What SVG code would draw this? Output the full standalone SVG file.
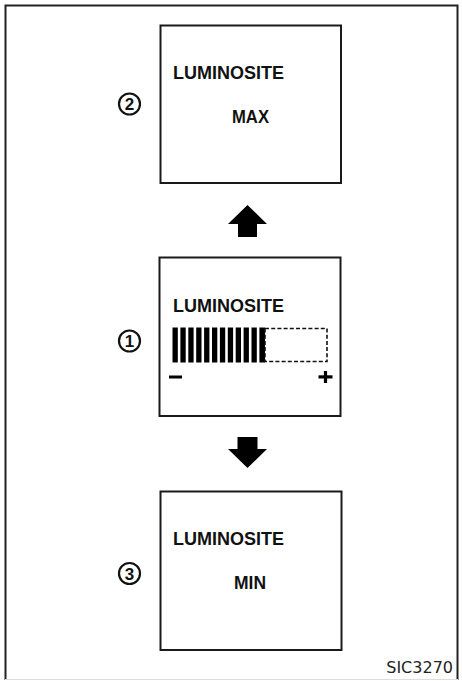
<svg xmlns="http://www.w3.org/2000/svg" width="462" height="681" viewBox="0 0 462 681">
<style>
.box{fill:#fff;stroke:#1a1a1a;stroke-width:2}
.lbl{font-family:"Liberation Sans",Arial,sans-serif;font-weight:bold;font-size:18px;fill:#111}
.num{font-family:"Liberation Sans",Arial,sans-serif;font-weight:bold;font-size:17px;fill:#111;text-anchor:middle}
.ring{fill:#fff;stroke:#111;stroke-width:2.2}
.arrow{fill:#000}
</style>
<rect width="462" height="681" fill="#fff"/>
<g id="frame">
<path d="M5.5 680V5.5H457.5V680" fill="none" stroke="#222" stroke-width="2"/>
<line x1="5" y1="679.5" x2="458" y2="679.5" stroke="#ddd" stroke-width="1"/>
</g>
<g id="node2">
<rect class="box" x="160.5" y="25.5" width="180.5" height="157.5"/>
<text class="lbl" x="173" y="79">LUMINOSITE</text>
<text class="lbl" x="232" y="123" textLength="37" lengthAdjust="spacingAndGlyphs">MAX</text>
<circle class="ring" cx="129.5" cy="104" r="10.5"/>
<text class="num" x="129.5" y="110">2</text>
</g>
<g id="node1">
<rect class="box" x="159.5" y="257.5" width="181" height="158.5"/>
<text class="lbl" x="173" y="312">LUMINOSITE</text>
<g fill="#000">
<rect x="172.5" y="327.5" width="5.3" height="35"/>
<rect x="180.4" y="327.5" width="5.3" height="35"/>
<rect x="188.3" y="327.5" width="5.3" height="35"/>
<rect x="196.2" y="327.5" width="5.3" height="35"/>
<rect x="204.1" y="327.5" width="5.3" height="35"/>
<rect x="212.0" y="327.5" width="5.3" height="35"/>
<rect x="219.9" y="327.5" width="5.3" height="35"/>
<rect x="227.8" y="327.5" width="5.3" height="35"/>
<rect x="235.7" y="327.5" width="5.3" height="35"/>
<rect x="243.6" y="327.5" width="5.3" height="35"/>
<rect x="251.5" y="327.5" width="5.3" height="35"/>
<rect x="259.4" y="327.5" width="5.6" height="35"/>
</g>
<rect x="265" y="328.5" width="62" height="33" fill="none" stroke="#111" stroke-width="1.6" stroke-dasharray="4 2.2"/>
<rect x="169" y="375.5" width="13" height="3" fill="#000"/>
<rect x="318.5" y="375.3" width="14" height="3.2" fill="#000"/>
<rect x="323.9" y="371" width="3.2" height="12" fill="#000"/>
<circle class="ring" cx="129.5" cy="341" r="10.5"/>
<text class="num" x="129.5" y="347">1</text>
</g>
<g id="node3">
<rect class="box" x="160.5" y="491.5" width="181" height="158.5"/>
<text class="lbl" x="173" y="545">LUMINOSITE</text>
<text class="lbl" x="234" y="589" textLength="32" lengthAdjust="spacingAndGlyphs">MIN</text>
<circle class="ring" cx="129.5" cy="573.5" r="10.5"/>
<text class="num" x="129.5" y="579.5">3</text>
</g>
<g id="connectors">
<polygon class="arrow" points="247.5,205 267,224 257,224 257,237 238,237 238,224 228,224"/>
<polygon class="arrow" points="237.5,437 257.5,437 257.5,449 267,449 247.5,468 228,449 237.5,449"/>
</g>
<text x="453" y="673" text-anchor="end" font-family="'DejaVu Sans',Verdana,sans-serif" font-size="16" fill="#222">SIC3270</text>
</svg>
